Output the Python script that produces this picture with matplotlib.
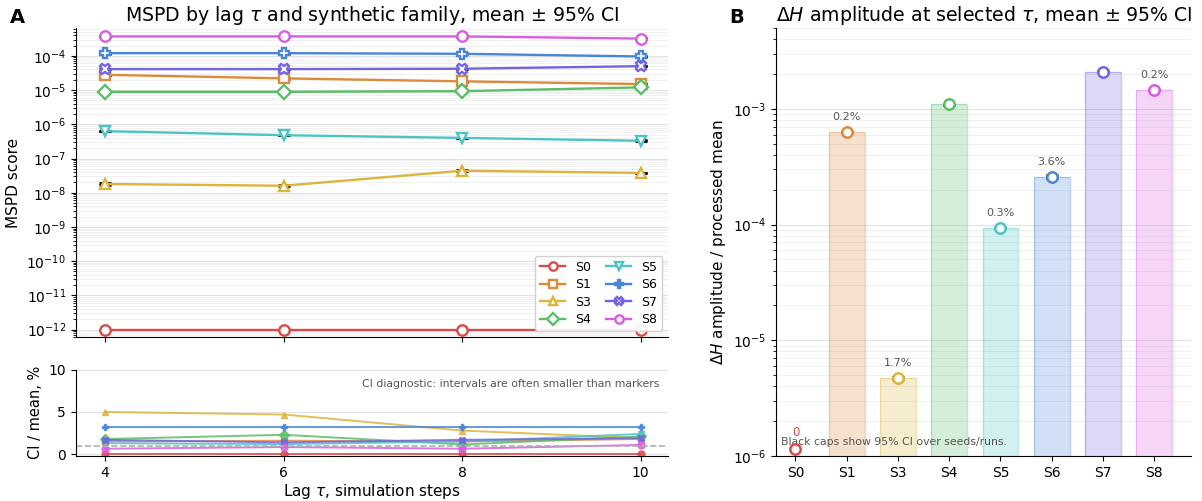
import numpy as np
import matplotlib
matplotlib.use("Agg")
import matplotlib.pyplot as plt
from matplotlib.ticker import LogLocator, NullFormatter

# synthetic families and lag values
families = ["S0", "S1", "S3", "S4", "S5", "S6", "S7", "S8"]
lags = [4, 6, 8, 10]
colors = ["#dc4a4a", "#dd8a3c", "#dcb43e", "#5abf68", "#4cc4c4", "#4a86d8", "#7464e4", "#d85ee0"]
markers = ["o", "s", "^", "D", "v", "P", "X", "o"]

# MSPD means per family (rows) and lag (columns)
mspd_S0 = [1e-12, 1e-12, 1e-12, 1e-12]
mspd_S1 = [2.8e-5, 2.2e-5, 1.8e-5, 1.5e-5]
mspd_S3 = [1.8e-8, 1.6e-8, 4.4e-8, 3.8e-8]
mspd_S4 = [8.9e-6, 8.9e-6, 9.3e-6, 1.2e-5]
mspd_S5 = [6.3e-7, 4.8e-7, 4.0e-7, 3.3e-7]
mspd_S6 = [1.2e-4, 1.2e-4, 1.15e-4, 9.6e-5]
mspd_S7 = [4.1e-5, 4.1e-5, 4.2e-5, 5.0e-5]
mspd_S8 = [3.7e-4, 3.7e-4, 3.7e-4, 3.2e-4]
mspd = [mspd_S0, mspd_S1, mspd_S3, mspd_S4, mspd_S5, mspd_S6, mspd_S7, mspd_S8]

# 95% CI half-width relative to the mean, in %
cipct_S0 = [0.0, 0.0, 0.0, 0.0]
cipct_S1 = [1.5, 1.6, 1.5, 1.8]
cipct_S3 = [5.0, 4.7, 2.8, 1.9]
cipct_S4 = [1.8, 2.3, 1.15, 2.1]
cipct_S5 = [1.3, 1.2, 1.5, 2.4]
cipct_S6 = [3.25, 3.25, 3.25, 3.25]
cipct_S7 = [1.7, 1.4, 1.7, 1.9]
cipct_S8 = [0.65, 0.85, 0.65, 1.1]
cipct = [cipct_S0, cipct_S1, cipct_S3, cipct_S4, cipct_S5, cipct_S6, cipct_S7, cipct_S8]

# Delta H amplitude at the selected lag
dh_amp = [0.0, 6.3e-4, 4.7e-6, 1.1e-3, 9.4e-5, 2.6e-4, 2.09e-3, 1.46e-3]
dh_cipct = [0.0, 0.2, 1.7, 0.8, 0.3, 3.6, 0.9, 0.2]
dh_labels = ["0", "0.2%", "1.7%", "", "0.3%", "3.6%", "", "0.2%"]
dh_floor = 1.15e-6

plt.rcParams["font.family"] = "DejaVu Sans"
fig = plt.figure(figsize=(12.02, 5.01), dpi=100)

ax1 = fig.add_axes([0.063, 0.327, 0.493, 0.617])
ax2 = fig.add_axes([0.063, 0.090, 0.493, 0.172], sharex=ax1)
ax3 = fig.add_axes([0.646, 0.090, 0.345, 0.854])

def add_grid(ax, minor=True):
    ax.grid(True, which="major", axis="y", color="#e2e2e2", lw=0.8, zorder=0)
    if minor:
        ax.grid(True, which="minor", axis="y", color="#f0f0f0", lw=0.7, zorder=0)
    ax.set_axisbelow(True)

# --- A: MSPD vs lag ---
for i, fam in enumerate(families):
    m = np.array(mspd[i])
    err = m * np.array(cipct[i]) / 100
    ax1.errorbar(lags, m, yerr=err, fmt="none", ecolor="black", elinewidth=1.4,
                 capsize=4.5, capthick=2, zorder=2)
    ax1.plot(lags, m, color=colors[i], marker=markers[i], ms=7.5,
             mfc="white", mec=colors[i], mew=1.7, lw=1.7, label=fam, zorder=3)
ax1.set_yscale("log")
ax1.set_ylim(6e-13, 6.5e-4)
ax1.yaxis.set_major_locator(LogLocator(base=10, numticks=20))
ax1.yaxis.set_minor_locator(LogLocator(base=10, subs=np.arange(2, 10), numticks=20))
ax1.yaxis.set_minor_formatter(NullFormatter())
add_grid(ax1)
ax1.set_ylabel("MSPD score", fontsize=11)
ax1.set_title(r"MSPD by lag $\tau$ and synthetic family, mean ± 95% CI", fontsize=13.6, pad=5)
ax1.tick_params(axis="x", labelbottom=False)
ax1.legend(loc="lower right", ncol=2, fontsize=9, framealpha=0.9, handlelength=2.0,
           markerscale=0.8, columnspacing=1.2, borderpad=0.4, labelspacing=0.35)

# --- A (lower): CI width diagnostic ---
for i, fam in enumerate(families):
    ax2.plot(lags, cipct[i], color=colors[i], marker=markers[i], ms=5, lw=1.4, alpha=0.85)
ax2.axhline(1.0, color="#b0b0b0", ls="--", lw=1.2)
ax2.set_ylim(-0.2, 10)
ax2.set_yticks([0, 5, 10])
ax2.set_xlim(3.67, 10.31)
ax2.set_xticks(lags)
add_grid(ax2, minor=False)
ax2.set_ylabel("CI / mean, %", fontsize=10.5)
ax2.set_xlabel(r"Lag $\tau$, simulation steps", fontsize=11, labelpad=2)
ax2.text(0.985, 0.84, "CI diagnostic: intervals are often smaller than markers",
         transform=ax2.transAxes, ha="right", va="center", fontsize=7.8, color="#555555")

# --- B: Delta H amplitude bars ---
x = np.arange(len(families))
for i, fam in enumerate(families):
    v = dh_amp[i]
    if v > 0:
        ax3.bar(x[i], v, width=0.7, color=colors[i], alpha=0.25, zorder=2)
        ax3.bar(x[i], v, width=0.7, fill=False, edgecolor=colors[i], alpha=0.35, lw=1, zorder=2)
        err = v * dh_cipct[i] / 100
        ax3.errorbar(x[i], v, yerr=err, fmt="none", ecolor="black", elinewidth=1.4,
                     capsize=4.5, capthick=2, zorder=3)
        ax3.plot(x[i], v, marker="o", ms=7.5, mfc="white", mec=colors[i], mew=1.8, zorder=4)
        if dh_labels[i]:
            ax3.annotate(dh_labels[i], (x[i], v), xytext=(0, 7), textcoords="offset points",
                         ha="center", va="bottom", fontsize=8, color="#555555")
    else:
        ax3.plot(x[i], dh_floor, marker="o", ms=7.5, mfc="white", mec=colors[i], mew=1.8,
                 zorder=4, clip_on=False)
        ax3.annotate(dh_labels[i], (x[i], dh_floor), xytext=(0, 7), textcoords="offset points",
                     ha="center", va="bottom", fontsize=8.5, color=colors[i])
ax3.set_yscale("log")
ax3.set_ylim(1e-6, 5e-3)
ax3.set_xlim(-0.37, 7.72)
ax3.set_xticks(x)
ax3.set_xticklabels(families)
ax3.yaxis.set_minor_formatter(NullFormatter())
add_grid(ax3)
ax3.set_ylabel(r"$\Delta H$ amplitude / processed mean", fontsize=11)
ax3.set_title(r"$\Delta H$ amplitude at selected $\tau$, mean ± 95% CI", fontsize=13.6, pad=5)
ax3.text(0.01, 0.033, "Black caps show 95% CI over seeds/runs.", transform=ax3.transAxes,
         ha="left", va="center", fontsize=7.8, color="#555555")

for ax in (ax1, ax2, ax3):
    ax.spines["top"].set_visible(False)
    ax.spines["right"].set_visible(False)
    ax.tick_params(labelsize=10)

fig.text(0.008, 0.965, "A", fontsize=14, fontweight="bold", va="center")
fig.text(0.607, 0.965, "B", fontsize=14, fontweight="bold", va="center")

fig.savefig("out.png", dpi=100)
